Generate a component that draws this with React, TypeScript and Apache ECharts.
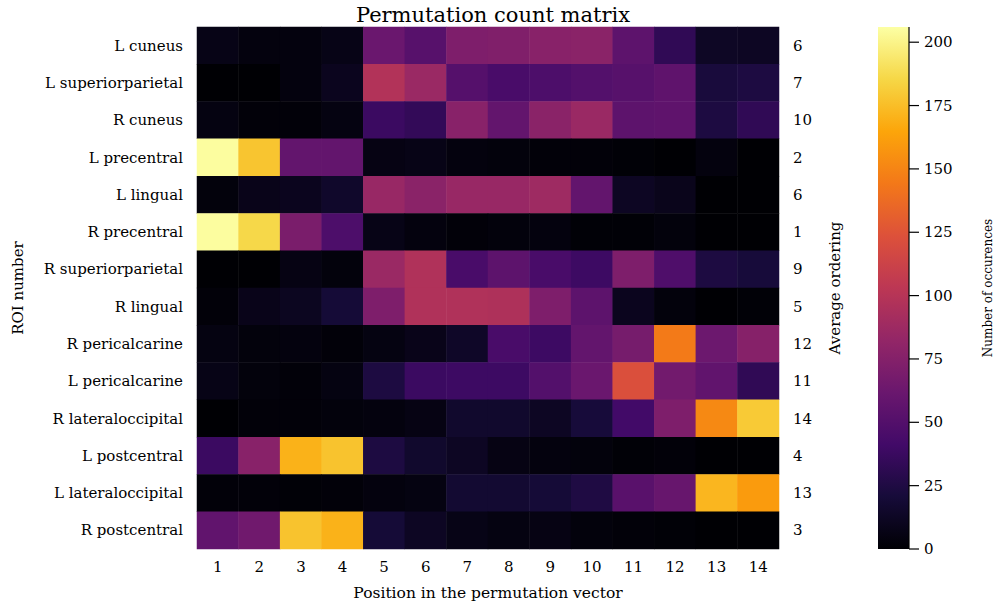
import React, { useEffect, useRef } from "react";
import * as echarts from "echarts";

const rois = [
  "L cuneus",
  "L superiorparietal",
  "R cuneus",
  "L precentral",
  "L lingual",
  "R precentral",
  "R superiorparietal",
  "R lingual",
  "R pericalcarine",
  "L pericalcarine",
  "R lateraloccipital",
  "L postcentral",
  "L lateraloccipital",
  "R postcentral",
];

const positions = ["1", "2", "3", "4", "5", "6", "7", "8", "9", "10", "11", "12", "13", "14"];

const averageOrdering = ["6", "7", "10", "2", "6", "1", "9", "5", "12", "11", "14", "4", "13", "3"];

// counts[row][col], rows top to bottom as in rois
const rowLCuneus = [7, 4, 4, 7, 62, 52, 72, 73, 77, 78, 55, 33, 13, 12];
const rowLSuperiorparietal = [0, 0, 4, 10, 98, 86, 51, 45, 47, 50, 52, 56, 22, 24];
const rowRCuneus = [5, 2, 2, 5, 38, 34, 77, 58, 78, 86, 55, 56, 24, 33];
const rowLPrecentral = [205, 178, 58, 58, 6, 7, 4, 3, 2, 2, 1, 0, 4, 0];
const rowLLingual = [3, 8, 10, 15, 85, 78, 85, 85, 88, 58, 12, 9, 0, 0];
const rowRPrecentral = [205, 186, 70, 47, 7, 4, 2, 3, 4, 1, 1, 3, 0, 0];
const rowRSuperiorparietal = [0, 0, 6, 3, 86, 97, 45, 55, 45, 39, 72, 48, 24, 21];
const rowRLingual = [2, 8, 11, 20, 72, 97, 97, 96, 72, 55, 10, 3, 0, 1];
const rowRPericalcarine = [5, 3, 4, 2, 5, 8, 14, 45, 39, 58, 68, 145, 63, 76];
const rowLPericalcarine = [7, 3, 2, 5, 24, 38, 39, 39, 50, 62, 122, 66, 57, 33];
const rowRLateraloccipital = [0, 2, 2, 3, 4, 6, 16, 16, 12, 21, 41, 72, 152, 180];
const rowLPostcentral = [38, 77, 170, 177, 24, 16, 12, 6, 4, 3, 1, 2, 0, 0];
const rowLLateraloccipital = [2, 2, 1, 2, 4, 5, 18, 18, 20, 25, 53, 60, 172, 160];
const rowRPostcentral = [57, 65, 177, 170, 20, 12, 7, 5, 6, 3, 2, 1, 0, 0];

const counts = [
  rowLCuneus,
  rowLSuperiorparietal,
  rowRCuneus,
  rowLPrecentral,
  rowLLingual,
  rowRPrecentral,
  rowRSuperiorparietal,
  rowRLingual,
  rowRPericalcarine,
  rowLPericalcarine,
  rowRLateraloccipital,
  rowLPostcentral,
  rowLLateraloccipital,
  rowRPostcentral,
];

const colorbarTicks = [0, 25, 50, 75, 100, 125, 150, 175, 200];
const colorMax = 206;

const inferno = [
  "#000004",
  "#160b39",
  "#420a68",
  "#6a176e",
  "#932667",
  "#bc3754",
  "#dd513a",
  "#f37819",
  "#fca50a",
  "#f6d746",
  "#fcffa4",
];

const FONT = "DejaVu Serif";

export default function App() {
  const ref = useRef<HTMLDivElement>(null);
  useEffect(() => {
    if (!ref.current) return;
    const chart = echarts.init(ref.current, undefined, { renderer: "svg" });
    const data: number[][] = [];
    counts.forEach((row, r) => {
      row.forEach((v, c) => {
        data.push([c, r, v]);
      });
    });
    const gl = 197, gt = 27, gw = 582, gh = 522;
    const cbl = 878, cbw = 31;
    const xr = cbl + cbw;
    // colorbar scale: value -> pixel (same mapping as the colorbar value axis)
    const toY = (v: number) => gt + gh - (v / colorMax) * gh;
    const tickEls = colorbarTicks.map((v) => ({
      type: "rect",
      z: 10,
      shape: { x: xr, y: toY(v) - 0.6, width: 10, height: 1.2 },
      style: { fill: "#000" },
    }));
    chart.setOption({
      animation: false,
      backgroundColor: "#ffffff",
      textStyle: { fontFamily: FONT, color: "#000" },
      title: {
        text: "Permutation count matrix",
        left: gl + gw / 2,
        textAlign: "center",
        top: -1,
        textStyle: { fontFamily: FONT, fontSize: 21, fontWeight: "normal", color: "#000" },
      },
      grid: [
        { left: gl, top: gt, width: gw, height: gh },
        { left: cbl, top: gt, width: cbw, height: gh },
      ],
      xAxis: [
        {
          type: "category",
          gridIndex: 0,
          data: positions,
          axisLine: { show: false },
          axisTick: { show: false },
          splitLine: { show: false },
          axisLabel: { fontFamily: FONT, fontSize: 15, color: "#000", margin: 10 },
          name: "Position in the permutation vector",
          nameLocation: "middle",
          nameGap: 36,
          nameTextStyle: { fontFamily: FONT, fontSize: 15.5, color: "#000" },
        },
        {
          type: "value",
          gridIndex: 1,
          min: 0,
          max: 1,
          axisLine: { show: false },
          axisTick: { show: false },
          axisLabel: { show: false },
          splitLine: { show: false },
        },
      ],
      yAxis: [
        {
          type: "category",
          gridIndex: 0,
          data: rois,
          inverse: true,
          axisLine: { show: false },
          axisTick: { show: false },
          splitLine: { show: false },
          axisLabel: { fontFamily: FONT, fontSize: 15, color: "#000", margin: 14 },
        },
        {
          type: "category",
          gridIndex: 0,
          data: rois,
          inverse: true,
          position: "right",
          axisLine: { show: false },
          axisTick: { show: false },
          splitLine: { show: false },
          axisLabel: {
            fontFamily: FONT,
            fontSize: 15,
            color: "#000",
            margin: 14,
            formatter: (_v: string, i: number) => averageOrdering[i],
          },
        },
        {
          type: "value",
          gridIndex: 1,
          min: 0,
          max: colorMax,
          interval: 25,
          position: "right",
          axisLine: { show: false },
          axisTick: { show: false },
          splitLine: { show: false },
          axisLabel: {
            fontFamily: FONT,
            fontSize: 15,
            color: "#000",
            margin: 15,
            showMaxLabel: false,
          },
        },
      ],
      visualMap: {
        type: "continuous",
        seriesIndex: 0,
        min: 0,
        max: colorMax,
        inRange: { color: inferno },
        show: false,
      },
      graphic: [
        {
          type: "rect",
          z: 0,
          shape: { x: cbl, y: gt, width: cbw, height: gh },
          style: {
            fill: new echarts.graphic.LinearGradient(
              0,
              1,
              0,
              0,
              inferno.map((c, i) => ({ offset: i / (inferno.length - 1), color: c }))
            ),
          },
        },
        {
          type: "rect",
          z: 10,
          shape: { x: xr - 0.6, y: gt, width: 1.2, height: gh },
          style: { fill: "#000" },
        },
        ...tickEls,
        {
          type: "text",
          x: 18,
          y: gt + gh / 2,
          rotation: Math.PI / 2,
          style: {
            text: "ROI number",
            fontFamily: FONT,
            fontSize: 15,
            fill: "#000",
            align: "center",
            verticalAlign: "middle",
          },
        },
        {
          type: "text",
          x: 835,
          y: gt + gh / 2,
          rotation: Math.PI / 2,
          style: {
            text: "Average ordering",
            fontFamily: FONT,
            fontSize: 15,
            fill: "#000",
            align: "center",
            verticalAlign: "middle",
          },
        },
        {
          type: "text",
          x: 988,
          y: gt + gh / 2,
          rotation: Math.PI / 2,
          style: {
            text: "Number of occurences",
            fontFamily: FONT,
            fontSize: 12,
            fill: "#000",
            align: "center",
            verticalAlign: "middle",
          },
        },
      ],
      series: [
        {
          type: "heatmap",
          xAxisIndex: 0,
          yAxisIndex: 0,
          data,
          itemStyle: { borderWidth: 0 },
          emphasis: { disabled: true },
        },
        {
          type: "scatter",
          xAxisIndex: 1,
          yAxisIndex: 2,
          data: [],
          silent: true,
        },
      ],
    });
    return () => chart.dispose();
  }, []);
  return <div ref={ref} style={{ width: 998, height: 609, position: "absolute", left: 0, top: 0 }} />;
}
